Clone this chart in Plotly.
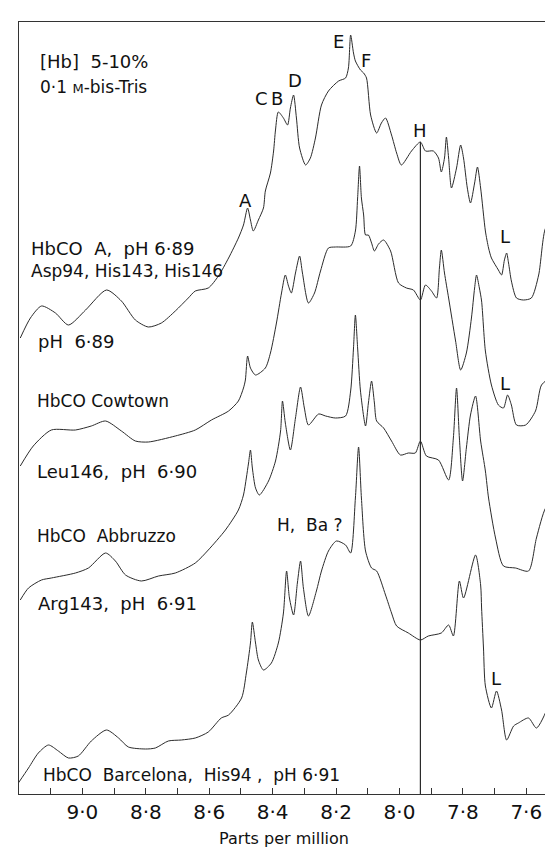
import plotly.graph_objects as go

# ---------------- data (ppm, relative intensity) ----------------
# Spectrum 1: HbCO A, pH 6.89 (top)
hbA_ppm = [9.196, 9.164, 9.129, 9.085, 9.044, 8.990, 8.924, 8.877, 8.833, 8.792,
           8.751, 8.707, 8.666, 8.644, 8.603, 8.571, 8.539, 8.508, 8.492, 8.479,
           8.470, 8.461, 8.445, 8.429, 8.423, 8.407, 8.397, 8.391, 8.382, 8.366,
           8.353, 8.344, 8.334, 8.325, 8.315, 8.296, 8.281, 8.265, 8.246, 8.224,
           8.192, 8.170, 8.161, 8.154, 8.145, 8.139, 8.123, 8.113, 8.104, 8.091,
           8.072, 8.057, 8.044, 8.025, 8.009, 7.994, 7.962, 7.934, 7.918, 7.893,
           7.877, 7.868, 7.858, 7.852, 7.845, 7.836, 7.820, 7.807, 7.798, 7.786,
           7.776, 7.763, 7.754, 7.744, 7.729, 7.719, 7.710, 7.688, 7.678, 7.669,
           7.662, 7.656, 7.647, 7.631, 7.609, 7.584, 7.561, 7.539, 7.520, 7.498]
hbA_int = [456, 476, 488, 481, 469, 484, 504, 493, 474, 467,
           471, 483, 496, 503, 506, 518, 536, 556, 569, 586,
           574, 563, 574, 586, 603, 621, 643, 664, 682, 676,
           669, 686, 699, 676, 646, 629, 636, 656, 689, 703,
           713, 716, 726, 759, 741, 733, 724, 721, 716, 679,
           661, 671, 676, 659, 641, 629, 643, 652, 643, 643,
           636, 622, 636, 657, 636, 606, 626, 649, 636, 606,
           591, 611, 627, 606, 563, 546, 536, 524, 519, 534,
           541, 531, 513, 496, 494, 496, 519, 566, 571, 581]

# Spectrum 2: HbCO Cowtown
cow_ppm = [9.196, 9.155, 9.098, 9.022, 8.972, 8.927, 8.877, 8.833, 8.792, 8.707,
           8.644, 8.593, 8.539, 8.508, 8.492, 8.486, 8.479, 8.470, 8.454, 8.423,
           8.407, 8.388, 8.372, 8.360, 8.350, 8.341, 8.328, 8.315, 8.306, 8.287,
           8.268, 8.249, 8.224, 8.202, 8.154, 8.139, 8.132, 8.126, 8.120, 8.113,
           8.107, 8.098, 8.088, 8.079, 8.066, 8.050, 8.028, 8.003, 7.978, 7.956,
           7.934, 7.918, 7.899, 7.883, 7.874, 7.868, 7.858, 7.845, 7.823, 7.807,
           7.789, 7.773, 7.763, 7.757, 7.748, 7.741, 7.729, 7.710, 7.688, 7.672,
           7.659, 7.647, 7.631, 7.602, 7.571, 7.552, 7.520, 7.498]
cow_int = [328, 348, 364, 364, 368, 373, 363, 353, 352, 358,
           364, 374, 383, 393, 406, 414, 438, 426, 419, 426,
           441, 471, 501, 519, 508, 501, 521, 538, 521, 491,
           501, 523, 546, 547, 548, 563, 596, 628, 596, 579,
           559, 559, 551, 543, 550, 554, 543, 511, 506, 504,
           494, 509, 503, 496, 526, 544, 521, 496, 453, 424,
           441, 476, 506, 519, 506, 493, 443, 409, 389, 386,
           399, 389, 369, 369, 383, 409, 418, 428]

# Spectrum 3: HbCO Abbruzzo
abb_ppm = [9.196, 9.170, 9.129, 9.098, 9.022, 8.981, 8.927, 8.896, 8.864, 8.814,
           8.760, 8.707, 8.644, 8.603, 8.549, 8.508, 8.492, 8.483, 8.476, 8.470,
           8.464, 8.454, 8.442, 8.413, 8.391, 8.375, 8.369, 8.360, 8.344, 8.328,
           8.312, 8.300, 8.287, 8.255, 8.233, 8.202, 8.170, 8.154, 8.145, 8.139,
           8.132, 8.123, 8.107, 8.098, 8.088, 8.079, 8.072, 8.050, 8.025, 7.997,
           7.972, 7.950, 7.934, 7.915, 7.877, 7.845, 7.830, 7.820, 7.811, 7.801,
           7.789, 7.776, 7.760, 7.744, 7.729, 7.719, 7.697, 7.672, 7.634, 7.593,
           7.568, 7.539, 7.520, 7.498]
abb_int = [194, 206, 214, 216, 221, 226, 241, 233, 219, 213,
           218, 221, 231, 244, 264, 284, 299, 316, 331, 344,
           326, 306, 299, 313, 333, 363, 393, 371, 344, 376,
           407, 386, 369, 380, 378, 376, 378, 403, 446, 479,
           446, 403, 368, 391, 413, 391, 373, 366, 353, 339,
           341, 341, 353, 338, 334, 314, 356, 406, 356, 313,
           346, 379, 398, 353, 323, 296, 256, 228, 226, 223,
           256, 286, 291, 288]

# Spectrum 4: HbCO Barcelona
bar_ppm = [9.202, 9.170, 9.139, 9.107, 9.076, 9.044, 9.013, 8.972, 8.924, 8.886,
           8.855, 8.801, 8.770, 8.729, 8.688, 8.644, 8.603, 8.562, 8.539, 8.498,
           8.483, 8.470, 8.464, 8.454, 8.445, 8.429, 8.404, 8.382, 8.366, 8.356,
           8.347, 8.334, 8.322, 8.312, 8.303, 8.287, 8.262, 8.246, 8.224, 8.199,
           8.170, 8.154, 8.139, 8.129, 8.120, 8.107, 8.088, 8.072, 8.044, 8.025,
           8.009, 7.972, 7.934, 7.909, 7.868, 7.845, 7.830, 7.811, 7.798, 7.760,
           7.744, 7.741, 7.735, 7.729, 7.710, 7.694, 7.678, 7.662, 7.640, 7.625,
           7.593, 7.568, 7.530, 7.498]
bar_int = [11, 26, 41, 49, 43, 36, 38, 53, 64, 56,
           47, 45, 46, 53, 54, 56, 62, 76, 79, 96,
           121, 151, 172, 151, 134, 124, 131, 151, 181, 223,
           196, 179, 211, 233, 206, 178, 203, 223, 243, 253,
           249, 241, 296, 347, 296, 243, 226, 223, 199, 181,
           168, 161, 154, 158, 161, 169, 158, 213, 196, 239,
           209, 186, 146, 108, 86, 103, 84, 54, 68, 71,
           76, 66, 88, 118]

tick_vals = [9.1, 9.0, 8.9, 8.8, 8.7, 8.6, 8.5, 8.4, 8.3, 8.2, 8.1, 8.0, 7.9, 7.8, 7.7, 7.6]
tick_text = ["", "9·0", "", "8·8", "", "8·6", "", "8·4", "", "8·2", "", "8·0", "", "7·8", "", "7·6"]

ref_line_ppm = 7.934      # resonance H of HbCO A
ref_line_top = 652

# ---------------- figure ----------------
FONT = "DejaVu Sans"
LINE = "#2b2b2b"

fig = go.Figure()
for xs, ys in [(hbA_ppm, hbA_int), (cow_ppm, cow_int), (abb_ppm, abb_int), (bar_ppm, bar_int)]:
    fig.add_trace(go.Scatter(x=xs, y=ys, mode="lines",
                             line=dict(color=LINE, width=1, shape="spline", smoothing=0.7),
                             hoverinfo="skip", showlegend=False))

fig.add_shape(type="line", xref="x", yref="y", x0=ref_line_ppm, x1=ref_line_ppm,
              y0=0, y1=ref_line_top, line=dict(color=LINE, width=1.2))

def note(x, y, text, size=18, anchor="center"):
    fig.add_annotation(x=x, y=y, xref="x", yref="y", text=text, showarrow=False,
                       xanchor=anchor, yanchor="middle",
                       font=dict(family=FONT, size=size, color="#111"))

# header
note(9.139, 733, "[Hb]  5-10%", 18, "left")
note(9.139, 707, "0·1 <span style='font-size:13px'>M</span>-bis-Tris", 17, "left")
# sample labels
note(9.170, 546, "HbCO  A,  pH 6·89", 18, "left")
note(9.170, 523, "Asp94, His143, His146", 17, "left")
note(9.145, 453, "pH  6·89", 18, "left")
note(9.148, 393, "HbCO Cowtown", 17, "left")
note(9.148, 323, "Leu146,  pH  6·90", 18, "left")
note(9.148, 258, "HbCO  Abbruzzo", 17, "left")
note(9.145, 191, "Arg143,  pH  6·91", 18, "left")
note(9.132, 19, "HbCO  Barcelona,  His94 ,  pH 6·91", 17, "left")
# peak labels
note(8.486, 594, "A")
note(8.435, 696, "C")
note(8.385, 696, "B")
note(8.331, 714, "D")
note(8.192, 753, "E")
note(8.107, 734, "F")
note(7.934, 664, "H")
note(7.666, 558, "L")
note(7.666, 411, "L")
note(7.694, 116, "L")
note(8.281, 269, "H,  Ba ?", 17)

fig.add_annotation(x=0.492, y=-0.058, xref="paper", yref="paper", text="Parts per million",
                   showarrow=False, xanchor="center", yanchor="middle",
                   font=dict(family=FONT, size=16, color="#111"))

fig.update_xaxes(range=[9.2, 7.5], showgrid=False, zeroline=False,
                 showline=True, linecolor="#333", linewidth=1, mirror=True,
                 ticks="inside", ticklen=6, tickcolor="#333", tickwidth=1.2,
                 tickmode="array", tickvals=tick_vals, ticktext=tick_text,
                 tickfont=dict(family=FONT, size=20, color="#111"))
fig.update_yaxes(range=[0, 772], showgrid=False, zeroline=False,
                 showline=True, linecolor="#333", linewidth=1, mirror=True,
                 showticklabels=False, ticks="")

fig.update_layout(width=553, height=850, margin=dict(l=11, r=3, t=14, b=64),
                  plot_bgcolor="white", paper_bgcolor="white",
                  font=dict(family=FONT))

fig.write_html("out.html")
